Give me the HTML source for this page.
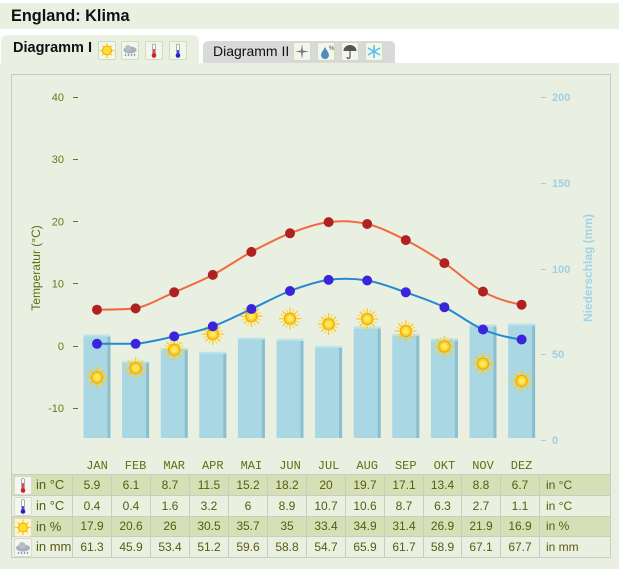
<!DOCTYPE html>
<html><head><meta charset="utf-8">
<style>
html,body{margin:0;padding:0;}
body{width:619px;height:569px;overflow:hidden;background:#fff;position:relative;font-family:"Liberation Sans",sans-serif;}
.abs{position:absolute;}
#title{left:0;top:3px;width:619px;height:26px;background:#e9f0e1;}
#title span{position:absolute;left:11px;top:4px;font-size:16.3px;font-weight:bold;color:#111;}
#tab1{left:1px;top:35px;width:198px;height:30px;background:#e9f0e1;border-radius:6px 6px 0 0;}
#tab2{left:203px;top:41px;width:192px;height:22px;background:#d9d9d9;border-radius:5px 5px 0 0;}
.tabtxt{position:absolute;color:#111;white-space:nowrap;}
.ib{position:absolute;width:16px;height:17px;background:#f3f6ec;border:1px solid #cfdcb8;border-radius:2px;}
#panel{left:0;top:63px;width:619px;height:506px;background:#e9f0e1;}
#frame{left:11px;top:74px;width:598px;height:482px;border:1px solid #c8c8c8;}
table{position:absolute;left:11px;top:474px;border-collapse:collapse;table-layout:fixed;width:600px;font-size:12px;color:#5a5a10;}
td{border:1px solid #c9cdbf;padding:0;text-align:center;height:19.75px;white-space:nowrap;overflow:hidden;}
tr.d td{background:#d5e0b6;}
tr.l td{background:#eaf0df;}
td.u{text-align:left;position:relative;overflow:visible;}
td.u span{position:absolute;left:24px;top:2px;font-size:13px;}
td.e{text-align:left;padding-left:6px;}
.ti{position:absolute;left:2px;top:1px;width:16px;height:17px;background:#f4f6ef;border:1px solid #d8dccf;border-radius:2px;}
</style></head><body>
<div id="title" class="abs"><span>England: Klima</span></div>
<div id="tab1" class="abs">
  <div class="tabtxt" style="left:12px;top:5px;font-weight:bold;font-size:14.5px;">Diagramm I</div>
  <div class="ib" style="left:97px;top:6px;"><svg width="16" height="17"><g stroke="#ffcc22" stroke-width="1.2"><line x1="8" y1="1" x2="8" y2="16"/><line x1="0.5" y1="8.5" x2="15.5" y2="8.5"/><line x1="3" y1="3.5" x2="13" y2="13.5"/><line x1="13" y1="3.5" x2="3" y2="13.5"/></g><circle cx="8" cy="8.5" r="4.5" fill="#ffdd33" stroke="#f0a800"/></svg></div>
  <div class="ib" style="left:120px;top:6px;"><svg width="16" height="17"><ellipse cx="8" cy="8" rx="6.5" ry="3.5" fill="#aab0b8"/><circle cx="6" cy="6" r="3" fill="#b8bec6"/><g stroke="#5588dd" stroke-width="1"><line x1="4" y1="12" x2="3" y2="14"/><line x1="7" y1="12" x2="6" y2="14"/><line x1="10" y1="12" x2="9" y2="14"/><line x1="13" y1="12" x2="12" y2="14"/></g></svg></div>
  <div class="ib" style="left:144px;top:6px;"><svg width="16" height="17"><rect x="6.5" y="2" width="3" height="11" rx="1.5" fill="#fff" stroke="#999" stroke-width="0.8"/><rect x="7.2" y="7" width="1.6" height="6" fill="#cc2222"/><circle cx="8" cy="13.5" r="2.3" fill="#cc2222"/></svg></div>
  <div class="ib" style="left:168px;top:6px;"><svg width="16" height="17"><rect x="6.5" y="2" width="3" height="11" rx="1.5" fill="#fff" stroke="#999" stroke-width="0.8"/><rect x="7.2" y="8" width="1.6" height="5" fill="#2222cc"/><circle cx="8" cy="13.5" r="2.3" fill="#2222cc"/></svg></div>
</div>
<div id="tab2" class="abs">
  <div class="tabtxt" style="left:10px;top:2px;font-size:14px;">Diagramm II</div>
  <div class="ib" style="left:90px;top:1px;"><svg width="16" height="17"><path d="M8 1 L9 7.5 L15 8.5 L9 9.5 L8 16 L7 9.5 L1 8.5 L7 7.5Z" fill="#777"/></svg></div>
  <div class="ib" style="left:114px;top:1px;"><svg width="16" height="17"><path d="M7 4 C9 8 11 10 11 12 A4 4 0 0 1 3 12 C3 10 5 8 7 4Z" fill="#5588bb"/><text x="11" y="7" font-size="6" fill="#444">%</text></svg></div>
  <div class="ib" style="left:138px;top:1px;"><svg width="16" height="17"><path d="M1.5 8 A6.5 6 0 0 1 14.5 8 Z" fill="#555"/><path d="M8 8 V14 A1.5 1.5 0 0 1 5 14" stroke="#555" fill="none" stroke-width="1.2"/></svg></div>
  <div class="ib" style="left:162px;top:1px;"><svg width="16" height="17"><g stroke="#55bbee" stroke-width="1.5"><line x1="8" y1="2" x2="8" y2="15"/><line x1="2" y1="5" x2="14" y2="12"/><line x1="14" y1="5" x2="2" y2="12"/></g></svg></div>
</div>
<div id="panel" class="abs"></div>
<div id="frame" class="abs"></div>

<svg class="abs" style="left:0;top:0" width="619" height="569" font-family="Liberation Sans, sans-serif">
<defs>
  <g id="sun">
    <g stroke="#ffcc11" stroke-width="1.3">
      <line x1="0" y1="-11" x2="0" y2="11"/><line x1="-11" y1="0" x2="11" y2="0"/>
      <line x1="-7.5" y1="-7.5" x2="7.5" y2="7.5"/><line x1="7.5" y1="-7.5" x2="-7.5" y2="7.5"/>
    </g>
    <g stroke="#ffd633" stroke-width="0.9">
      <line x1="-4" y1="-9.5" x2="4" y2="9.5"/><line x1="4" y1="-9.5" x2="-4" y2="9.5"/>
      <line x1="-9.5" y1="-4" x2="9.5" y2="4"/><line x1="-9.5" y1="4" x2="9.5" y2="-4"/>
    </g>
    <circle r="5.6" fill="#ffd21f" stroke="#f0a400" stroke-width="1"/>
    <circle r="3" fill="#ffe866"/>
  </g>
  <g id="bar">
    <rect x="0" y="0" width="27" height="200" fill="#a9d7e3"/>
    <rect x="24" y="0" width="3" height="200" fill="#8cbfcb"/>
    <rect x="0" y="0" width="27" height="2" fill="#bde3ec"/>
  </g>
  <clipPath id="bc"><rect x="0" y="0" width="619" height="438"/></clipPath>
</defs>

<!-- left axis -->
<g font-size="11" fill="#677818" text-anchor="end">
  <text x="64" y="101">40</text>
  <text x="64" y="163">30</text>
  <text x="64" y="225.5">20</text>
  <text x="64" y="287.5">10</text>
  <text x="64" y="350">0</text>
  <text x="64" y="412">-10</text>
</g>
<g stroke="#677818" stroke-width="1">
  <line x1="73" y1="97.5" x2="78" y2="97.5"/>
  <line x1="73" y1="159.5" x2="78" y2="159.5"/>
  <line x1="73" y1="221.5" x2="78" y2="221.5"/>
  <line x1="73" y1="283.5" x2="78" y2="283.5"/>
  <line x1="73" y1="346.5" x2="78" y2="346.5"/>
  <line x1="73" y1="408.5" x2="78" y2="408.5"/>
</g>
<text transform="translate(40,268) rotate(-90)" text-anchor="middle" font-size="12" fill="#5f6e10">Temperatur (°C)</text>

<!-- right axis -->
<g font-size="11" fill="#9fcfe4" font-weight="bold">
  <text x="552" y="101">200</text>
  <text x="552" y="187">150</text>
  <text x="552" y="273">100</text>
  <text x="552" y="358">50</text>
  <text x="552" y="444">0</text>
</g>
<g stroke="#9fcfe4" stroke-width="1">
  <line x1="541" y1="97.5" x2="546" y2="97.5"/>
  <line x1="541" y1="183.5" x2="546" y2="183.5"/>
  <line x1="541" y1="269.5" x2="546" y2="269.5"/>
  <line x1="541" y1="354.5" x2="546" y2="354.5"/>
  <line x1="541" y1="440.5" x2="546" y2="440.5"/>
</g>
<text transform="translate(592,268) rotate(-90)" text-anchor="middle" font-size="12" font-weight="bold" fill="#a3d2e6">Niederschlag (mm)</text>

<!-- bars -->
<g clip-path="url(#bc)">
  <use href="#bar" x="83.5" y="334.6"/>
  <use href="#bar" x="122.1" y="361"/>
  <use href="#bar" x="160.7" y="348.2"/>
  <use href="#bar" x="199.3" y="351.9"/>
  <use href="#bar" x="237.9" y="337.5"/>
  <use href="#bar" x="276.5" y="338.9"/>
  <use href="#bar" x="315.1" y="345.9"/>
  <use href="#bar" x="353.7" y="326.7"/>
  <use href="#bar" x="392.3" y="333.9"/>
  <use href="#bar" x="430.9" y="338.7"/>
  <use href="#bar" x="469.5" y="324.6"/>
  <use href="#bar" x="508.1" y="323.6"/>
</g>

<!-- suns (behind lines) -->
<use href="#sun" x="97" y="377.4"/>
<use href="#sun" x="135.6" y="368.1"/>
<use href="#sun" x="174.2" y="349.6"/>
<use href="#sun" x="212.8" y="334.1"/>
<use href="#sun" x="251.4" y="316.2"/>
<use href="#sun" x="290" y="318.6"/>
<use href="#sun" x="328.6" y="324.1"/>
<use href="#sun" x="367.2" y="319"/>
<use href="#sun" x="405.8" y="331"/>
<use href="#sun" x="444.4" y="346.5"/>
<use href="#sun" x="483" y="363.7"/>
<use href="#sun" x="521.6" y="380.9"/>

<!-- max line -->
<path d="M97,309.7 C109.9,309.5 122.7,309.6 135.6,308.4 C148.5,305.5 161.3,297.9 174.2,292.3 C187.1,286.7 199.9,281.6 212.8,274.9 C225.7,268.2 238.5,258.8 251.4,251.9 C264.3,245.0 277.1,238.3 290,233.3 C302.9,228.3 315.7,223.7 328.6,222.1 C341.5,220.5 354.3,221.0 367.2,224.0 C380.1,227.0 392.9,233.6 405.8,240.1 C418.7,246.6 431.5,254.5 444.4,263.1 C457.3,271.7 470.1,284.7 483,291.6 C495.9,298.5 508.7,302.5 521.6,304.7" fill="none" stroke="#f06a3e" stroke-width="2"/>
<!-- min line -->
<path d="M97,343.8 C109.9,343.8 122.7,343.8 135.6,343.8 C148.5,342.6 161.3,339.3 174.2,336.4 C187.1,333.5 199.9,331.0 212.8,326.4 C225.7,321.8 238.5,314.9 251.4,309 C264.3,303.1 277.1,295.9 290,291 C302.9,286.2 315.7,281.7 328.6,279.9 C341.5,278.2 354.3,278.4 367.2,280.5 C380.1,282.6 392.9,287.9 405.8,292.3 C418.7,296.8 431.5,301.0 444.4,307.2 C457.3,313.4 470.1,324.1 483,329.5 C495.9,334.9 508.7,337.8 521.6,339.5" fill="none" stroke="#238ad2" stroke-width="2"/>

<g fill="#b02222">
  <circle cx="97" cy="309.7" r="5"/><circle cx="135.6" cy="308.4" r="5"/><circle cx="174.2" cy="292.3" r="5"/><circle cx="212.8" cy="274.9" r="5"/><circle cx="251.4" cy="251.9" r="5"/><circle cx="290" cy="233.3" r="5"/><circle cx="328.6" cy="222.1" r="5"/><circle cx="367.2" cy="224" r="5"/><circle cx="405.8" cy="240.1" r="5"/><circle cx="444.4" cy="263.1" r="5"/><circle cx="483" cy="291.6" r="5"/><circle cx="521.6" cy="304.7" r="5"/>
</g>
<g fill="#3a24dc">
  <circle cx="97" cy="343.8" r="5"/><circle cx="135.6" cy="343.8" r="5"/><circle cx="174.2" cy="336.4" r="5"/><circle cx="212.8" cy="326.4" r="5"/><circle cx="251.4" cy="309" r="5"/><circle cx="290" cy="291" r="5"/><circle cx="328.6" cy="279.9" r="5"/><circle cx="367.2" cy="280.5" r="5"/><circle cx="405.8" cy="292.3" r="5"/><circle cx="444.4" cy="307.2" r="5"/><circle cx="483" cy="329.5" r="5"/><circle cx="521.6" cy="339.5" r="5"/>
</g>

<!-- months -->
<g font-family="Liberation Mono, monospace" font-size="12" fill="#5f6e10" text-anchor="middle">
  <text x="97" y="469">JAN</text><text x="135.6" y="469">FEB</text><text x="174.2" y="469">MAR</text><text x="212.8" y="469">APR</text><text x="251.4" y="469">MAI</text><text x="290" y="469">JUN</text><text x="328.6" y="469">JUL</text><text x="367.2" y="469">AUG</text><text x="405.8" y="469">SEP</text><text x="444.4" y="469">OKT</text><text x="483" y="469">NOV</text><text x="521.6" y="469">DEZ</text>
</g>
</svg>

<table>
<colgroup><col style="width:61px"><col style="width:39px"><col style="width:39px"><col style="width:39px"><col style="width:39px"><col style="width:39px"><col style="width:39px"><col style="width:39px"><col style="width:39px"><col style="width:39px"><col style="width:38px"><col style="width:39px"><col style="width:39px"><col style="width:71px"></colgroup>
<tr class="d"><td class="u"><div class="ti"><svg width="16" height="17"><rect x="6.5" y="1.5" width="3" height="11" rx="1.5" fill="#fff" stroke="#999" stroke-width="0.8"/><rect x="7.2" y="6" width="1.6" height="7" fill="#cc2222"/><circle cx="8" cy="13.5" r="2.3" fill="#cc2222"/></svg></div><span>in °C</span></td>
<td>5.9</td><td>6.1</td><td>8.7</td><td>11.5</td><td>15.2</td><td>18.2</td><td>20</td><td>19.7</td><td>17.1</td><td>13.4</td><td>8.8</td><td>6.7</td><td class="e">in °C</td></tr>
<tr class="l"><td class="u"><div class="ti"><svg width="16" height="17"><rect x="6.5" y="1.5" width="3" height="11" rx="1.5" fill="#fff" stroke="#999" stroke-width="0.8"/><rect x="7.2" y="8" width="1.6" height="5" fill="#2222cc"/><circle cx="8" cy="13.5" r="2.3" fill="#2222cc"/></svg></div><span>in °C</span></td>
<td>0.4</td><td>0.4</td><td>1.6</td><td>3.2</td><td>6</td><td>8.9</td><td>10.7</td><td>10.6</td><td>8.7</td><td>6.3</td><td>2.7</td><td>1.1</td><td class="e">in °C</td></tr>
<tr class="d"><td class="u"><div class="ti" style="background:#fff5cc"><svg width="16" height="17"><g stroke="#ffcc22" stroke-width="1.2"><line x1="8" y1="0.5" x2="8" y2="16.5"/><line x1="0" y1="8.5" x2="16" y2="8.5"/><line x1="2.5" y1="3" x2="13.5" y2="14"/><line x1="13.5" y1="3" x2="2.5" y2="14"/></g><circle cx="8" cy="8.5" r="4.5" fill="#ffdd33" stroke="#f0a800"/></svg></div><span>in %</span></td>
<td>17.9</td><td>20.6</td><td>26</td><td>30.5</td><td>35.7</td><td>35</td><td>33.4</td><td>34.9</td><td>31.4</td><td>26.9</td><td>21.9</td><td>16.9</td><td class="e">in %</td></tr>
<tr class="l"><td class="u"><div class="ti"><svg width="16" height="17"><ellipse cx="8" cy="9" rx="7" ry="3.5" fill="#aab0b8"/><circle cx="7" cy="6.5" r="3.5" fill="#b8bec6"/><g stroke="#5588dd" stroke-width="1"><line x1="4" y1="13" x2="3" y2="15"/><line x1="7" y1="13" x2="6" y2="15"/><line x1="10" y1="13" x2="9" y2="15"/><line x1="13" y1="13" x2="12" y2="15"/></g></svg></div><span>in mm</span></td>
<td>61.3</td><td>45.9</td><td>53.4</td><td>51.2</td><td>59.6</td><td>58.8</td><td>54.7</td><td>65.9</td><td>61.7</td><td>58.9</td><td>67.1</td><td>67.7</td><td class="e">in mm</td></tr>
</table>
</body></html>
